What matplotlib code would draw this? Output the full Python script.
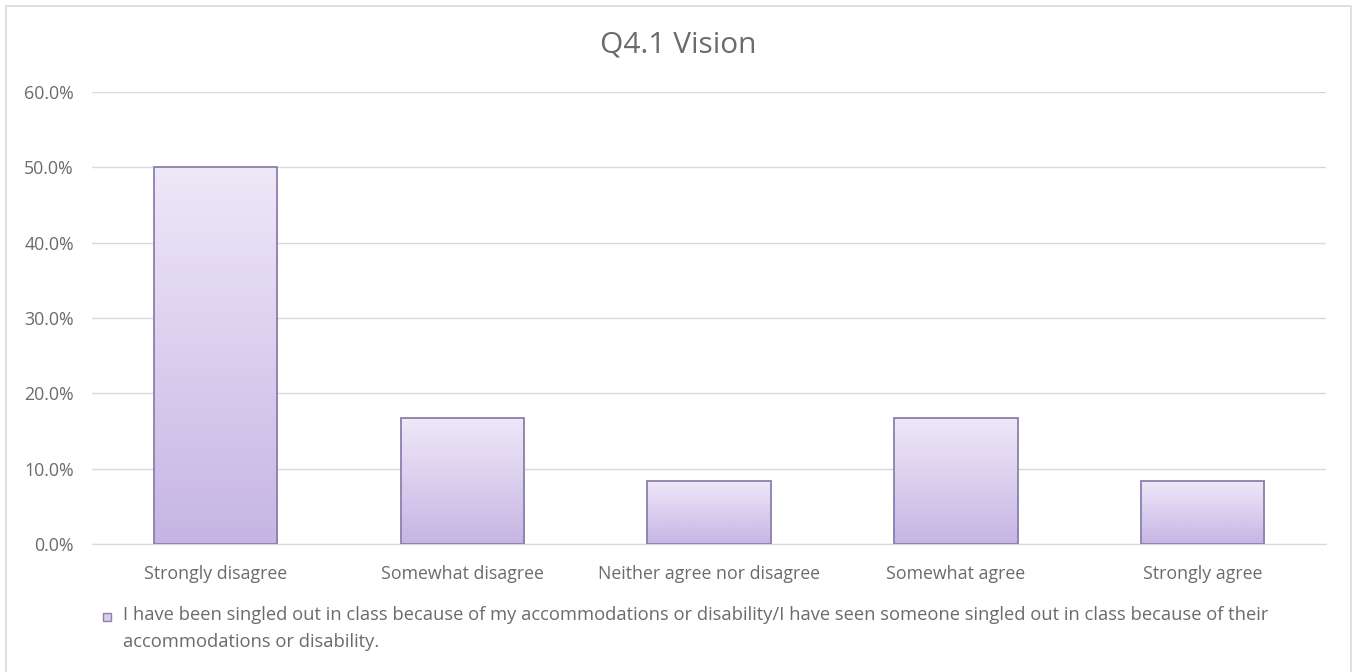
import numpy as np
import matplotlib
matplotlib.use("Agg")
import matplotlib.pyplot as plt
from matplotlib.patches import Rectangle
from matplotlib.colors import LinearSegmentedColormap
from matplotlib.ticker import PercentFormatter

categories = ["Strongly disagree", "Somewhat disagree", "Neither agree nor disagree",
              "Somewhat agree", "Strongly agree"]
shares = [50.0, 16.7, 8.3, 16.7, 8.3]
yticks = [0, 10, 20, 30, 40, 50, 60]
series_label = ("I have been singled out in class because of my accommodations or disability/"
                "I have seen someone singled out in class because of their\n"
                "accommodations or disability.")

plt.rcParams["font.family"] = ["Open Sans", "DejaVu Sans"]
text_grey = "#6b6b6b"
edge = "#8c7fab"
grad = LinearSegmentedColormap.from_list("lav", ["#c6b5e4", "#eee8f8"])

W, H = 1356, 672
fig = plt.figure(figsize=(W / 100, H / 100), dpi=100)
ax = fig.add_axes([92 / W, 1 - 544 / H, (1326 - 92) / W, (544 - 92) / H])

x = np.arange(len(categories))
bars = ax.bar(x, shares, width=0.5, facecolor="none", edgecolor=edge, linewidth=1.3, zorder=3)

# vertical gradient inside each bar
g = np.linspace(0, 1, 256).reshape(-1, 1)
for b in bars:
    x0, y0 = b.get_x(), b.get_y()
    ax.imshow(g, cmap=grad, origin="lower", aspect="auto", zorder=2,
              extent=(x0, x0 + b.get_width(), y0, y0 + b.get_height()))

ax.set_xlim(-0.5, len(categories) - 0.5)
ax.set_ylim(0, 60)
ax.set_yticks(yticks)
ax.yaxis.set_major_formatter(PercentFormatter(decimals=1))
ax.set_xticks(x)
ax.set_xticklabels(categories)
ax.grid(axis="y", color="#d9d9d9", linewidth=1, zorder=0)
for s in ["top", "right", "left"]:
    ax.spines[s].set_visible(False)
ax.spines["bottom"].set_color("#d9d9d9")
ax.tick_params(axis="both", length=0, labelsize=12.8, labelcolor=text_grey)
ax.tick_params(axis="y", pad=13)
ax.tick_params(axis="x", pad=15)

fig.text(0.5, 1 - 45 / H, "Q4.1 Vision", ha="center", va="center",
         fontsize=21.5, color=text_grey)

# legend swatch and wrapped label
fig.patches.append(Rectangle((103 / W, 1 - 621 / H), 8 / W, 8 / H,
                             transform=fig.transFigure, facecolor="#d9cdef",
                             edgecolor=edge, linewidth=1))
fig.text(123 / W, 1 - 606 / H, series_label, ha="left", va="top",
         fontsize=13.2, color=text_grey, linespacing=1.65)

# chart frame, open at the bottom edge
fig.patches.append(Rectangle((6 / W, -10 / H), (1351 - 6) / W, (H + 4) / H,
                             transform=fig.transFigure, facecolor="none",
                             edgecolor="#d9d9d9", linewidth=1.2))

fig.savefig("out.png", dpi=100)
